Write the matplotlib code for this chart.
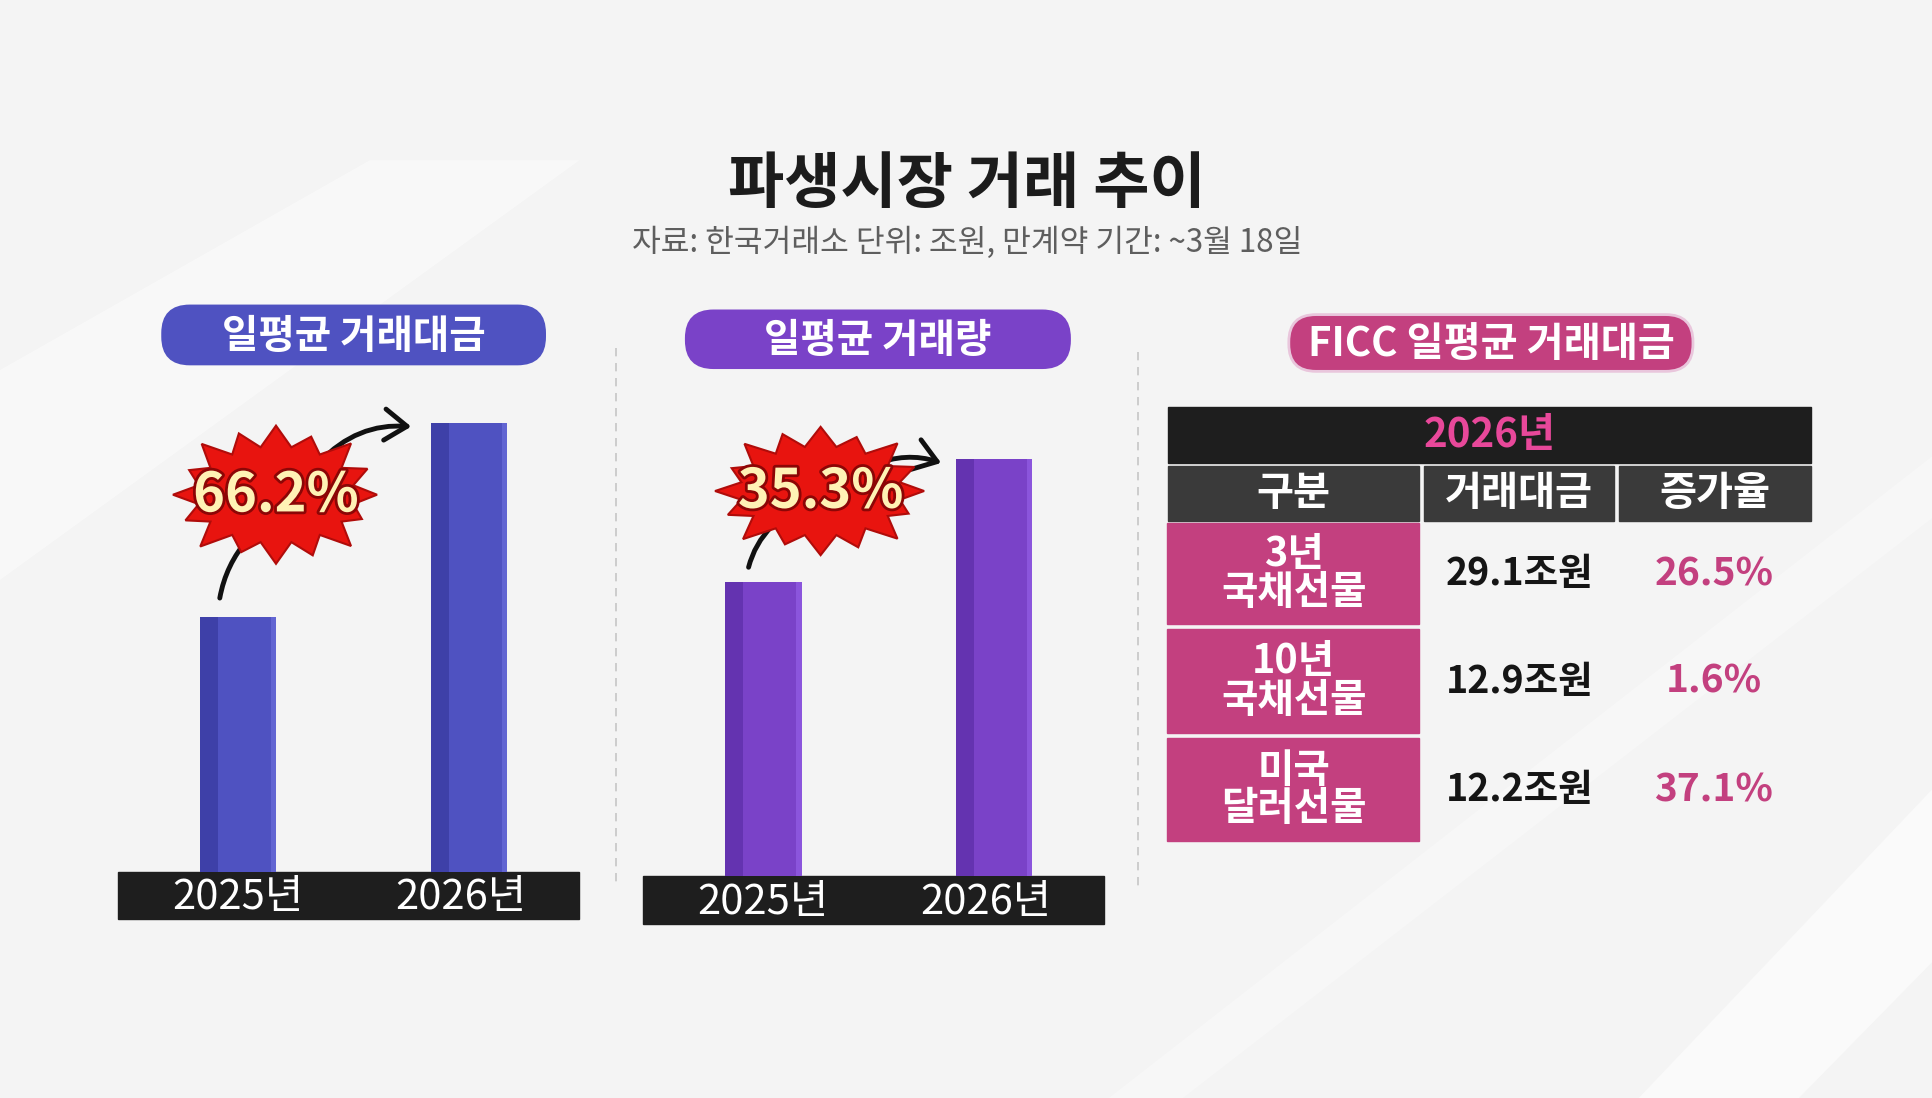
import numpy as np
import matplotlib
matplotlib.use("Agg")
import matplotlib.pyplot as plt
from matplotlib.patches import Rectangle, FancyBboxPatch, Polygon, FancyArrowPatch
import matplotlib.patheffects as pe

plt.rcParams['font.family'] = ['Noto Sans CJK KR', 'DejaVu Sans']

# ---------------- data ----------------
title = "파생시장 거래 추이"
subtitle = "자료: 한국거래소 단위: 조원, 만계약 기간: ~3월 18일"
years = ["2025년", "2026년"]
amount_title = "일평균 거래대금"
amount_index = [100, 176]          # relative bar heights
amount_growth = 66.2
volume_title = "일평균 거래량"
volume_index = [100, 142]
volume_growth = 35.3
ficc_title = "FICC 일평균 거래대금"
ficc_year = "2026년"
ficc_header = ["구분", "거래대금", "증가율"]
ficc_items = ["3년\n국채선물", "10년\n국채선물", "미국\n달러선물"]
ficc_values = [29.1, 12.9, 12.2]
ficc_growth = [26.5, 1.6, 37.1]

# ---------------- figure ----------------
W, H = 1568, 890
fig = plt.figure(figsize=(19.32, 10.98), dpi=100)
fig.patch.set_facecolor("#f4f4f4")
ov = fig.add_axes([0, 0, 1, 1])
ov.set_xlim(0, W)
ov.set_ylim(H, 0)
ov.axis("off")
ov.set_zorder(0)

# subtle diagonal light streaks
for pts, a in [([(0, 300), (0, 470), (470, 130), (300, 130)], 0.45),
               ([(1330, 890), (1460, 890), (1568, 780), (1568, 640)], 0.55),
               ([(900, 890), (960, 890), (1568, 420), (1568, 370)], 0.3)]:
    ov.add_patch(Polygon(pts, closed=True, color="white", alpha=a, lw=0, zorder=0))

ov.text(785, 150, title, ha="center", va="center", fontsize=44, fontweight="bold", color="#1c1c1c")
ov.text(785, 197, subtitle, ha="center", va="center", fontsize=22.5, color="#5e5e5e")

def pill(x0, y0, x1, y1, color, text, fs=28.5):
    ov.add_patch(FancyBboxPatch((x0, y0), x1 - x0, y1 - y0,
                                boxstyle="round,pad=0,rounding_size=22",
                                fc=color, ec="#e9c6dc" if color == "#c3407f" else color, lw=2, zorder=2))
    ov.text((x0 + x1) / 2, (y0 + y1) / 2 + 1, text, ha="center", va="center",
            fontsize=fs, fontweight="bold", color="white", zorder=3)

BLUE, BLUE_D, BLUE_L = "#4f52c1", "#3e40a8", "#6265d2"
PURP, PURP_D, PURP_L = "#7a42c8", "#6433b0", "#8b55dc"
MAG = "#c3407f"

pill(132, 248, 442, 295, BLUE, amount_title)
pill(557, 252, 868, 298, PURP, volume_title)
pill(1046, 255, 1374, 301, MAG, ficc_title, fs=29)

# dashed separators
ov.plot([500, 500], [282, 720], ls=(0, (5, 4)), color="#c6c6c6", lw=1.2)
ov.plot([924, 924], [285, 720], ls=(0, (5, 4)), color="#c6c6c6", lw=1.2)

# black bands
ov.add_patch(Rectangle((96, 707), 374, 38, color="#1e1e1e", zorder=2))
ov.add_patch(Rectangle((522, 710), 374, 39, color="#1e1e1e", zorder=2))

def bar_chart(x0, x1, base, c0, c1, vals, px_per_unit, main, dark, light, offset_pt):
    top = 300
    ax = fig.add_axes([x0 / W, 1 - base / H, (x1 - x0) / W, (base - top) / H])
    ax.set_zorder(2)
    ax.patch.set_alpha(0)
    unit = c1 - c0
    ax.set_xlim((x0 - c0) / unit, (x1 - c0) / unit)
    ax.set_ylim(0, (base - top) / px_per_unit)
    x = np.arange(len(vals))
    w = 62 / unit
    ax.bar(x, vals, width=w, color=main, zorder=2)
    ax.bar(x - w / 2, vals, width=w * 0.24, align="edge", color=dark, zorder=3)
    ax.bar(x + w / 2 - w * 0.07, vals, width=w * 0.07, align="edge", color=light, zorder=3)
    ax.axis("off")
    for i, lab in enumerate(years):
        ax.annotate(lab, xy=(i, 0), xycoords=("data", "axes fraction"),
                    xytext=(-6 if i == 1 else 0, -offset_pt), textcoords="offset points",
                    ha="center", va="center", fontsize=30, color="white", zorder=5,
                    annotation_clip=False)
    return ax

bar_chart(96, 470, 707, 193, 380.5, amount_index, 2.07, BLUE, BLUE_D, BLUE_L, 18.5)
bar_chart(522, 896, 710, 619.5, 806.5, volume_index, 2.38, PURP, PURP_D, PURP_L, 18.8)

# starbursts
spike_r = [1.0, 0.92, 1.05, 0.95, 1.0, 0.9, 1.06, 0.97, 1.02, 0.93, 1.04, 0.96, 1.0, 0.91, 1.05, 0.98]
def burst(cx, cy, rx, ry, text):
    n = len(spike_r)
    pts = []
    for k in range(n):
        a0 = 2 * np.pi * k / n
        a1 = 2 * np.pi * (k + 0.5) / n
        pts.append((cx + rx * spike_r[k] * np.cos(a0), cy + ry * spike_r[k] * np.sin(a0)))
        pts.append((cx + rx * 0.78 * np.cos(a1), cy + ry * 0.7 * np.sin(a1)))
    ov.add_patch(Polygon(pts, closed=True, fc="#e8140f", ec="#b00c0a", lw=1.5, zorder=4))
    ov.text(cx, cy + 1, text, ha="center", va="center", fontsize=39, fontweight="bold",
            color="#fff2b5", zorder=5,
            path_effects=[pe.withStroke(linewidth=4, foreground="#8c0606")])

def arrows(p0, p1, q0, q1, rad1, rad2):
    ov.add_patch(FancyArrowPatch(p0, p1, connectionstyle=f"arc3,rad={rad1}",
                                 arrowstyle="-", color="#111111", lw=3.5, zorder=3))
    ov.add_patch(FancyArrowPatch(q0, q1, connectionstyle=f"arc3,rad={rad2}",
                                 arrowstyle="->,head_length=10,head_width=7", color="#111111",
                                 lw=3.5, zorder=3, mutation_scale=1.6))

arrows((178, 487), (203, 435), (258, 376), (336, 346), -0.15, -0.25)
burst(224, 401, 82, 56, f"{amount_growth}%")
arrows((607, 462), (628, 425), (706, 378), (766, 376), -0.15, -0.2)
burst(666, 398, 84, 52, f"{volume_growth}%")

# FICC table
tx0, tx1 = 948, 1470
ov.add_patch(Rectangle((tx0, 330), tx1 - tx0, 45, color="#1e1e1e", zorder=2))
ov.text((tx0 + tx1) / 2, 353, ficc_year, ha="center", va="center", fontsize=29,
        fontweight="bold", color="#e8489a", zorder=3)
cols = [(948, 1152), (1156, 1310), (1314, 1470)]
for (a, b), h in zip(cols, ficc_header):
    ov.add_patch(Rectangle((a, 378), b - a, 44, color="#3a3a3a", zorder=2))
    ov.text((a + b) / 2, 400, h, ha="center", va="center", fontsize=29,
            fontweight="bold", color="white", zorder=3)
row_y = [(424, 506), (510, 594), (598, 682)]
for (ya, yb), item, v, g in zip(row_y, ficc_items, ficc_values, ficc_growth):
    ov.add_patch(Rectangle((947, ya), 205, yb - ya, color=MAG, zorder=2))
    ym = (ya + yb) / 2
    ov.text(1050, ym, item, ha="center", va="center", fontsize=28.5, fontweight="bold",
            color="white", linespacing=0.92, zorder=3)
    ov.text(1233, ym, f"{v}조원", ha="center", va="center", fontsize=27,
            fontweight="bold", color="#151515", zorder=3)
    ov.text(1391, ym, f"{g}%", ha="center", va="center", fontsize=28,
            color=MAG, fontweight="bold", zorder=3)

fig.savefig("out.png", dpi=100, facecolor=fig.get_facecolor())
